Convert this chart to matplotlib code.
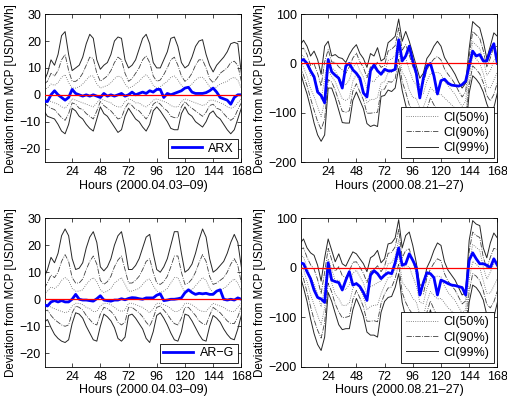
import numpy as np
import matplotlib
matplotlib.use("Agg")
import matplotlib.pyplot as plt

plt.rcParams['font.family'] = ['Liberation Sans', 'DejaVu Sans']
plt.rcParams['font.size'] = 9

hours = np.arange(0, 169, 3)

# ---- top left: ARX, 2000.04.03-09
tl_model = [-2.5, -2.5, 0, 1.5, 0, -1, -2, -1,
            2, 0.5, 0, -0.5, 0, -0.5, 0, -0.5,
            -1, 0.5, -0.5, 0, -0.5, 0, 0.5, -0.5,
            0, 1, 0, 0.5, 1, 0.5, 1.5, 1,
            2, 2, -1, 0.5, 0, 0.5, 1, 1.5,
            2.5, 2.8, 1, 0.5, 0.5, 0.5, 0.8, 1.5,
            2.5, 1, -1, -1.5, -2, -3.5, -1, 0,
            0]
tl_u99 = [5, 8, 13, 11, 15, 22, 23.5, 15,
          9, 10, 11, 14, 19, 22.5, 21, 13,
          9.5, 11, 12, 15, 20, 21.5, 21, 13,
          10, 11, 13, 17, 21, 22.5, 19, 12,
          10, 10, 13, 16, 21, 21.5, 18, 12,
          10, 11, 14, 18, 20, 20.5, 15, 11,
          8.5, 11, 12.5, 14, 16, 19, 19.5, 19,
          8]
tl_l99 = [-6, -8, -8.5, -9, -11, -13.5, -14.5, -11,
          -5, -6, -8, -9, -11, -12.5, -13.5, -9,
          -4.5, -7, -8, -10, -12, -14, -13, -8,
          -5, -7, -9, -10, -12, -13.5, -11, -6,
          -4.5, -6, -8, -10, -12.5, -13, -13, -7,
          -4.5, -7, -8, -10, -11, -12, -10, -7,
          -6, -8, -9, -11, -13, -14.5, -13, -9,
          -5]
tl_u90 = [4, 5, 8, 7, 9, 13, 15, 9,
          5, 5, 6, 8, 11, 14, 13.5, 8,
          5, 6, 7, 9, 12, 14, 13, 8,
          5, 6, 8, 10, 13, 14.5, 12, 7,
          5, 5.5, 7.5, 10, 13, 14, 11, 7,
          5, 6, 8, 11, 13, 13, 10, 6,
          4.5, 6, 8, 9, 10, 12, 12.5, 11,
          5]
tl_l90 = [-3, -4, -5, -5.5, -7, -8.5, -9.5, -7,
          -3, -3.5, -5, -5.5, -7, -8, -9, -6,
          -2.5, -4, -5, -6, -7.5, -9, -8.5, -5,
          -3, -4, -5.5, -6, -7.5, -9, -7, -3.5,
          -2.5, -3.5, -5, -6, -8, -8.5, -8.5, -4.5,
          -2.5, -4, -5, -6, -7, -8, -6.5, -4,
          -3.5, -5, -5.5, -7, -8.5, -9.5, -8.5, -5.5,
          -3]
tl_u50 = [2, 2.5, 4, 3.5, 4.5, 6.5, 7.5, 4.5,
          2.5, 2.5, 3, 4, 5.5, 7, 7, 4,
          2.5, 3, 3.5, 4.5, 6, 7, 6.5, 4,
          2.5, 3, 4, 5, 6.5, 7.5, 6, 3.5,
          2.5, 3, 4, 5, 6.5, 7, 5.5, 3.5,
          2.5, 3, 4, 5.5, 6.5, 6.5, 5, 3,
          2, 3, 4, 4.5, 5, 6, 6.5, 5.5,
          2.5]
tl_l50 = [-1.5, -2, -2.5, -3, -3.5, -4.5, -5, -3.5,
          -1.5, -2, -2.5, -3, -3.5, -4, -4.5, -3,
          -1.5, -2, -2.5, -3, -4, -4.5, -4.5, -2.5,
          -1.5, -2, -3, -3, -4, -4.5, -3.5, -2,
          -1.5, -2, -2.5, -3, -4, -4.5, -4.5, -2.5,
          -1.5, -2, -2.5, -3, -3.5, -4, -3.5, -2,
          -2, -2.5, -3, -3.5, -4.5, -5, -4.5, -3,
          -1.5]

# ---- bottom left: AR-G, 2000.04.03-09
bl_model = [-2, -2.5, -1, -0.5, -1, -0.5, -1, -1,
            0, 1.8, 0, -0.3, -0.3, -0.5, -0.7, 0.2,
            1.3, -0.3, -0.5, -0.7, -0.3, -0.3, 0.2, -0.2,
            0.3, 0.6, 0.5, 0.2, 0, 0.5, 0.5, 0.5,
            1.5, 2, -0.5, -0.3, 0, 0, 0.2, 0.5,
            2.4, 3.5, 2.5, 1.8, 2.2, 2, 2.2, 1.8,
            1.8, 3, 3.5, 0, -0.3, 0, -0.3, 0.5,
            0]
bl_u99 = [8, 11, 15.5, 13.5, 17, 23.5, 26, 23.5,
          15, 11, 11.5, 13.5, 19, 23, 25, 21,
          12, 10.5, 12, 15, 20, 23.5, 25, 19,
          11, 11, 12.5, 15, 19, 23, 24, 17,
          11, 10, 12, 15, 20, 25, 25, 17,
          10, 11, 13, 17, 22, 26, 23, 15,
          10, 11, 12.5, 14, 17, 21, 24, 21,
          12]
bl_l99 = [-8.5, -7.5, -10.5, -13, -14.5, -15.5, -16, -15,
          -9, -5, -5.5, -7, -10, -12.5, -15, -15.5,
          -10, -5.5, -6.5, -8, -10.5, -14.5, -15.5, -14,
          -6, -5.5, -7, -9, -11, -14.5, -16, -12,
          -6, -5, -7, -9.5, -12.5, -15, -15.5, -12,
          -5.5, -6, -8, -10.5, -13, -15, -15.5, -10,
          -6, -7, -8.5, -11, -13, -14.5, -15, -11,
          -6]
bl_u90 = [4, 6, 9, 8, 10, 14, 16.5, 14,
          8, 6, 6, 7.5, 11, 14, 16, 13,
          7, 5.5, 6.5, 8.5, 12, 14.5, 16, 11,
          6, 6, 7, 8.5, 11, 14, 15, 10,
          6, 5.5, 6.5, 8.5, 12, 16, 16, 10,
          5.5, 6, 7.5, 10, 13.5, 16.5, 14, 8.5,
          5.5, 6, 7, 8, 10, 13, 15, 12.5,
          6]
bl_l90 = [-4.5, -4, -6, -7.5, -8.5, -9.5, -10, -9.5,
          -5, -2.5, -3, -4, -6, -7.5, -9, -9.5,
          -5.5, -3, -3.5, -4.5, -6, -8.5, -9.5, -8.5,
          -3, -3, -4, -5, -6.5, -8.5, -10, -7,
          -3, -2.5, -4, -5.5, -7.5, -9, -9.5, -7,
          -3, -3, -4.5, -6, -8, -9, -9.5, -6,
          -3, -4, -5, -6.5, -8, -9, -9, -6.5,
          -3]
bl_u50 = [2, 3, 4.5, 4, 5, 7, 8, 7,
          4, 3, 3, 3.5, 5.5, 7, 8, 6.5,
          3.5, 2.5, 3, 4, 6, 7, 8, 5.5,
          3, 3, 3.5, 4, 5.5, 7, 7.5, 5,
          3, 2.5, 3, 4, 6, 8, 8, 5,
          2.5, 3, 3.5, 5, 6.5, 8, 7, 4,
          2.5, 3, 3.5, 4, 5, 6.5, 7.5, 6,
          3]
bl_l50 = [-2, -2, -3, -3.5, -4, -4.5, -5, -4.5,
          -2.5, -1.5, -1.5, -2, -3, -3.5, -4.5, -4.5,
          -2.5, -1.5, -1.5, -2, -3, -4, -4.5, -4,
          -1.5, -1.5, -2, -2.5, -3, -4, -5, -3.5,
          -1.5, -1.5, -2, -2.5, -3.5, -4.5, -4.5, -3.5,
          -1.5, -1.5, -2, -3, -4, -4.5, -4.5, -3,
          -1.5, -2, -2.5, -3, -4, -4.5, -4.5, -3,
          -1.5]

# ---- top right: ARX, 2000.08.21-27
tr_model = [5, 8, 0, -15, -27, -58, -65, -80,
            8, -17, -24, -30, -50, -5, 0, -13,
            -20, -30, -60, -68, -15, -3, -15, -22,
            -12, -15, -15, -12, 48, 5, 15, 35,
            5, -20, -70, -30, -5, 0, -25, -62,
            -35, -32, -40, -44, -45, -46, -43, -36,
            -5, 25, 15, 18, 5, 5, 25, 40,
            0]
tr_u99 = [37, 47, 35, 15, 25, 8, -22, 35,
          45, 15, 18, 12, 10, 2, 18, 30,
          38, 20, 10, -8, 20, 15, 32, 5,
          10, 42, 48, 55, 90, 45, 65, 45,
          20, -5, -30, -20, 10, 20, 35, 45,
          35, 12, 0, -10, -22, -38, -50, -40,
          30, 85, 78, 72, 45, 10, 35, 62,
          55]
tr_l99 = [-13, -40, -62, -90, -121, -145, -158, -145,
          -50, -50, -70, -95, -120, -121, -121, -75,
          -58, -75, -92, -122, -128, -125, -128, -67,
          -65, -54, -57, -50, -10, -55, -85, -112,
          -122, -110, -125, -130, -115, -90, -110, -125,
          -120, -118, -122, -128, -132, -140, -150, -140,
          -60, -25, -32, -42, -58, -82, -100, -90,
          -60]
tr_u90 = [28, 31, 18, -4, -1, -20, -46, 3,
          28, 3, 2, -7, -13, -20, -7, 11,
          21, 3, -8, -29, -7, -10, 3, -8,
          -4, 25, 29, 36, 72, 27, 38, 17,
          -6, -24, -47, -40, -13, 0, 9, 14,
          7, -11, -22, -31, -42, -56, -68, -58,
          14, 65, 58, 51, 26, -7, 11, 35,
          34]
tr_l90 = [-4, -24, -45, -71, -95, -118, -134, -113,
          -33, -38, -54, -76, -97, -99, -96, -56,
          -41, -58, -74, -101, -101, -100, -99, -54,
          -52, -37, -38, -31, 8, -37, -58, -84,
          -96, -91, -108, -110, -93, -70, -84, -94,
          -92, -95, -100, -107, -112, -122, -132, -122,
          -44, -5, -12, -21, -39, -65, -76, -63,
          -39]
tr_u50 = [19, 15, -1, -24, -29, -49, -72, -32,
          10, -9, -15, -28, -38, -44, -33, -9,
          2, -15, -28, -50, -35, -37, -27, -22,
          -18, 6, 9, 16, 53, 8, 10, -13,
          -33, -44, -65, -61, -36, -21, -19, -18,
          -22, -36, -45, -54, -63, -76, -87, -77,
          -3, 44, 37, 30, 7, -24, -15, 6,
          12]
tr_l50 = [6, -8, -26, -51, -67, -88, -108, -78,
          -15, -26, -37, -55, -72, -75, -70, -36,
          -22, -40, -54, -80, -73, -73, -69, -40,
          -37, -19, -18, -11, 27, -18, -30, -54,
          -69, -71, -90, -89, -69, -49, -56, -62,
          -63, -70, -77, -84, -91, -102, -113, -103,
          -27, 16, 9, 0, -20, -48, -50, -34,
          -17]

# ---- bottom right: AR-G, 2000.08.21-27
br_model = [10, 8, -8, -22, -45, -60, -63, -70,
            10, -25, -28, -30, -45, -25, -8, -35,
            -32, -38, -50, -66, -15, -6, -12, -22,
            -15, -10, -12, 10, 40, 5, 8, 28,
            15, 0, -55, -30, -10, -12, -20, -55,
            -25, -28, -32, -35, -36, -38, -40, -55,
            15, 30, 18, 8, 8, 5, 0, 18,
            5]
br_u99 = [49, 58, 40, 30, 25, 5, -27, 20,
          58, 35, 12, 28, 8, 3, 18, 32,
          28, 18, 8, -8, 20, 25, 35, 10,
          18, 48, 50, 60, 97, 40, 65, 72,
          45, 10, -35, -35, 0, 15, 35, 50,
          45, 12, -5, -15, -25, -40, -55, -50,
          55, 95, 88, 85, 40, 20, 50, 70,
          60]
br_l99 = [-16, -40, -68, -103, -133, -155, -167, -140,
          -50, -68, -92, -115, -125, -123, -123, -85,
          -62, -78, -98, -130, -136, -136, -140, -90,
          -68, -60, -58, -40, -12, -70, -100, -118,
          -125, -115, -130, -135, -110, -85, -110, -130,
          -125, -120, -125, -130, -135, -145, -155, -145,
          -70, -35, -40, -50, -65, -95, -110, -100,
          -70]
br_u90 = [37, 40, 21, 6, -3, -24, -52, -9,
          39, 16, -7, 2, -16, -20, -7, 11,
          12, 1, -11, -30, -8, -4, 4, -8,
          3, 29, 31, 42, 77, 20, 35, 38,
          14, -12, -52, -53, -20, -3, 9, 18,
          14, -12, -27, -36, -45, -59, -73, -67,
          33, 72, 65, 61, 21, -1, 21, 39,
          37]
br_l90 = [-4, -22, -49, -79, -105, -126, -142, -111,
          -31, -49, -73, -89, -101, -100, -98, -64,
          -46, -61, -79, -108, -108, -107, -109, -72,
          -53, -41, -39, -22, 8, -50, -70, -84,
          -94, -92, -113, -117, -90, -67, -84, -98,
          -94, -96, -103, -109, -115, -126, -137, -128,
          -48, -12, -17, -26, -46, -74, -81, -69,
          -47]
br_u50 = [25, 22, 0, -19, -33, -54, -79, -39,
          18, -3, -26, -25, -41, -44, -34, -11,
          -5, -18, -31, -53, -38, -35, -30, -27,
          -14, 8, 10, 23, 57, -1, 4, 2,
          -18, -36, -70, -72, -41, -22, -19, -17,
          -18, -37, -50, -58, -66, -79, -92, -85,
          9, 47, 41, 35, 1, -23, -9, 7,
          12]
br_l50 = [8, -4, -28, -54, -75, -96, -115, -81,
          -10, -30, -54, -62, -76, -76, -71, -42,
          -29, -42, -59, -85, -78, -76, -75, -53,
          -36, -20, -18, -3, 28, -29, -39, -48,
          -62, -69, -95, -98, -69, -48, -56, -63,
          -62, -71, -81, -87, -94, -106, -118, -110,
          -24, 13, 7, 0, -26, -52, -51, -37,
          -22]

xticks = [24, 48, 72, 96, 120, 144, 168]
left_yticks = [-20, -10, 0, 10, 20, 30]
right_yticks = [-200, -100, 0, 100]
ylabel = 'Deviation from MCP [USD/MWh]'


def panel(ax, model, name, u50, l50, u90, l90, u99, l99, ylim, yticks, xlabel, ci_legend):
    l1, = ax.plot(hours, u50, ':', color='0.4', lw=0.6)
    ax.plot(hours, l50, ':', color='0.4', lw=0.6)
    l2, = ax.plot(hours, u90, '-.', color='0.25', lw=0.6)
    ax.plot(hours, l90, '-.', color='0.25', lw=0.6)
    l3, = ax.plot(hours, u99, '-', color='0.15', lw=0.7)
    ax.plot(hours, l99, '-', color='0.15', lw=0.7)
    blue, = ax.plot(hours, model, '-', color='#0000ff', lw=2.0, zorder=4)
    ax.axhline(0, color='#ff0000', lw=0.9, zorder=5)
    ax.set_xlim(1, 168)
    ax.set_ylim(*ylim)
    ax.set_xticks(xticks)
    ax.set_yticks(yticks)
    ax.tick_params(direction='in', top=True, right=True, length=3, width=0.5, pad=3)
    for s in ax.spines.values():
        s.set_linewidth(0.6)
    ax.set_xlabel(xlabel, labelpad=1)
    ax.set_ylabel(ylabel, labelpad=2, fontsize=8.4)
    if ci_legend:
        leg = ax.legend([l1, l2, l3], ['CI(50%)', 'CI(90%)', 'CI(99%)'], loc='lower right',
                        fancybox=False, framealpha=1, edgecolor='black',
                        handlelength=2.6, handletextpad=0.4, borderaxespad=0.3,
                        labelspacing=0.25, borderpad=0.35)
    else:
        leg = ax.legend([blue], [name], loc='lower right', fancybox=False, framealpha=1,
                        edgecolor='black', handlelength=2.4, borderaxespad=0.3,
                        handletextpad=0.5, borderpad=0.3)
    leg.set_zorder(10)
    leg.get_frame().set_linewidth(0.6)


fig = plt.figure(figsize=(5.07, 4.04), dpi=100)
ax_tl = fig.add_axes([0.089, 0.599, 0.387, 0.366])
ax_tr = fig.add_axes([0.594, 0.599, 0.387, 0.366])
ax_bl = fig.add_axes([0.089, 0.092, 0.387, 0.368])
ax_br = fig.add_axes([0.594, 0.092, 0.387, 0.368])

panel(ax_tl, tl_model, 'ARX', tl_u50, tl_l50, tl_u90, tl_l90, tl_u99, tl_l99,
      (-25, 30), left_yticks, 'Hours (2000.04.03\u201309)', False)
panel(ax_tr, tr_model, 'ARX', tr_u50, tr_l50, tr_u90, tr_l90, tr_u99, tr_l99,
      (-200, 100), right_yticks, 'Hours (2000.08.21\u201327)', True)
panel(ax_bl, bl_model, 'AR\u2212G', bl_u50, bl_l50, bl_u90, bl_l90, bl_u99, bl_l99,
      (-25, 30), left_yticks, 'Hours (2000.04.03\u201309)', False)
panel(ax_br, br_model, 'AR-G', br_u50, br_l50, br_u90, br_l90, br_u99, br_l99,
      (-200, 100), right_yticks, 'Hours (2000.08.21\u201327)', True)

fig.savefig('out.png', dpi=100)
